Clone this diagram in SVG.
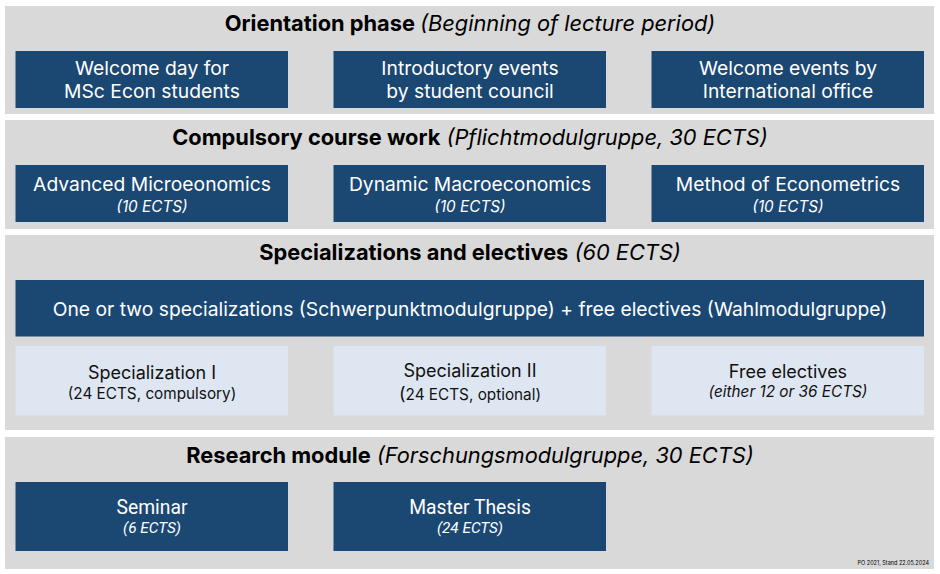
<svg xmlns="http://www.w3.org/2000/svg" width="940" height="574" viewBox="0 0 940 574">
<style>
.band{fill:#d9d9d9}
.dk{fill:#1b4872}
.lt{fill:#dee6f2}
.t{font-family:Inter,"Liberation Sans",sans-serif;text-anchor:middle}
.h{font-size:21.8px;fill:#000}
.hb{font-weight:bold}
.hi{font-style:italic;font-weight:normal}
.w{fill:#fff;font-size:19.3px}
.ws{fill:#fff;font-size:15.3px;font-style:italic}
.k{fill:#111;font-size:18px}
.ks{fill:#111;font-size:15.3px}
.r{font-family:Roboto,"Liberation Sans",sans-serif;text-anchor:middle}
</style>
<rect width="940" height="574" fill="#fff"/>
<g id="orientation">
<rect class="band" x="5" y="6" width="929" height="108"/>
<text class="t h" x="470" y="31"><tspan class="hb">Orientation phase </tspan><tspan class="hi"> (Beginning of lecture period)</tspan></text>
</g>
<g id="welcome-day">
<rect class="dk" x="15.5" y="51" width="272.5" height="57"/>
<text class="t w" x="152" y="75">Welcome day for</text>
<text class="t w" x="152" y="98">MSc Econ students</text>
</g>
<g id="intro-events">
<rect class="dk" x="333.5" y="51" width="272.5" height="57"/>
<text class="t w" x="470" y="75">Introductory events</text>
<text class="t w" x="470" y="98">by student council</text>
</g>
<g id="welcome-intl">
<rect class="dk" x="651.5" y="51" width="272.5" height="57"/>
<text class="t w" x="788" y="75">Welcome events by</text>
<text class="t w" x="788" y="98">International office</text>
</g>
<g id="compulsory">
<rect class="band" x="5" y="120" width="929" height="109"/>
<text class="t h" x="470" y="145"><tspan class="hb">Compulsory course work</tspan><tspan class="hi"> (Pflichtmodulgruppe, 30 ECTS)</tspan></text>
</g>
<g id="micro">
<rect class="dk" x="15.5" y="165" width="272.5" height="57"/>
<text class="t w" x="152" y="191">Advanced Microeonomics</text>
<text class="t ws" x="152" y="212">(10 ECTS)</text>
</g>
<g id="macro">
<rect class="dk" x="333.5" y="165" width="272.5" height="57"/>
<text class="t w" x="470" y="191">Dynamic Macroeconomics</text>
<text class="t ws" x="470" y="212">(10 ECTS)</text>
</g>
<g id="econometrics">
<rect class="dk" x="651.5" y="165" width="272.5" height="57"/>
<text class="t w" x="788" y="191">Method of Econometrics</text>
<text class="t ws" x="788" y="212">(10 ECTS)</text>
</g>
<g id="specializations">
<rect class="band" x="5" y="235" width="929" height="195"/>
<text class="t h" x="470" y="260"><tspan class="hb">Specializations and electives</tspan><tspan class="hi"> (60 ECTS)</tspan></text>
</g>
<g id="spec-overview">
<rect class="dk" x="15.5" y="280" width="908.5" height="56.5"/>
<text class="t w" x="470" y="316" font-size="19.7px">One or two specializations (Schwerpunktmodulgruppe) + free electives (Wahlmodulgruppe)</text>
</g>
<g id="spec-1">
<rect class="lt" x="15.5" y="346" width="272.5" height="69.5"/>
<text class="t k" x="152" y="379">Specialization I</text>
<text class="t ks" x="152" y="399">(24 ECTS, compulsory)</text>
</g>
<g id="spec-2">
<rect class="lt" x="333.5" y="346" width="272.5" height="69.5"/>
<text class="t k" x="470" y="377">Specialization II</text>
<text class="t ks" x="470" y="400"><tspan font-size="18px">(</tspan>24 ECTS, optional)</text>
</g>
<g id="free-electives">
<rect class="lt" x="651.5" y="346" width="272.5" height="69.5"/>
<text class="t k" x="788" y="378">Free electives</text>
<text class="t ks" x="788" y="397" font-style="italic">(either 12 or 36 ECTS)</text>
</g>
<g id="research">
<rect class="band" x="5" y="437" width="929" height="132"/>
<text class="t h" x="470" y="463"><tspan class="hb">Research module</tspan><tspan class="hi"> (Forschungsmodulgruppe, 30 ECTS)</tspan></text>
</g>
<g id="seminar">
<rect class="dk" x="15.5" y="482" width="272.5" height="69"/>
<text class="r w" x="152" y="514">Seminar</text>
<text class="r ws" x="152" y="533">(6 ECTS)</text>
</g>
<g id="thesis">
<rect class="dk" x="333.5" y="482" width="272.5" height="69"/>
<text class="r w" x="470" y="514">Master Thesis</text>
<text class="r ws" x="470" y="533">(24 ECTS)</text>
</g>
<g id="connectors"></g>
<text x="929" y="565" font-family="Inter,'Liberation Sans',sans-serif" font-size="5.5" text-anchor="end" fill="#000">PO 2021, Stand 22.05.2024</text>
</svg>
